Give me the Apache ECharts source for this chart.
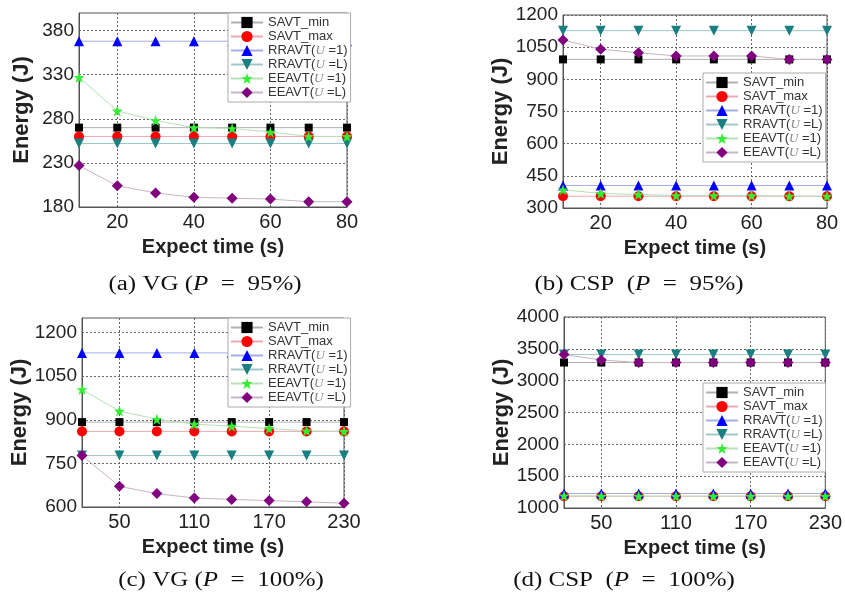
<!DOCTYPE html>
<html>
<head>
<meta charset="utf-8">
<script src="https://cdn.jsdelivr.net/npm/echarts@6/dist/echarts.min.js"></script>
<style>
  html, body { margin: 0; padding: 0; background: #fff; }
  #main { width: 845px; height: 596px; }
</style>
</head>
<body>
<div id="main"></div>
<script>
// series names (legend order)
const names = ['SAVT_min', 'SAVT_max', 'RRAVT(U =1)', 'RRAVT(U =L)', 'EEAVT(U =1)', 'EEAVT(U =L)']

// x values
const xsShort = [10, 20, 30, 40, 50, 60, 70, 80]
const xsLong = [20, 50, 80, 110, 140, 170, 200, 230]

// tick labels
const xTicksShort = [20, 40, 60, 80]
const xTicksLong = [50, 110, 170, 230]
const yTicksA = [180, 230, 280, 330, 380]
const yTicksB = [300, 450, 600, 750, 900, 1050, 1200]
const yTicksC = [600, 750, 900, 1050, 1200]
const yTicksD = [1000, 1500, 2000, 2500, 3000, 3500, 4000]

// (a) VG, P = 95%
const aSavtMin = [270, 270, 270, 270, 270, 270, 270, 270]
const aSavtMax = [260, 260, 260, 260, 260, 260, 260, 260]
const aRrU1 = [368, 368, 368, 368, 368, 368, 368, 368]
const aRrUL = [252, 252, 252, 252, 252, 252, 252, 252]
const aEeU1 = [327, 289, 278, 270, 269, 265, 260, 260]
const aEeUL = [227, 204, 196, 191, 190, 189, 186, 186]

// (b) CSP, P = 95%
const bSavtMin = [993, 993, 993, 993, 993, 993, 993, 993]
const bSavtMax = [355, 355, 355, 355, 355, 355, 355, 355]
const bRrU1 = [405, 405, 405, 405, 405, 405, 405, 405]
const bRrUL = [1127, 1127, 1127, 1127, 1127, 1127, 1127, 1127]
const bEeU1 = [385, 368, 363, 358, 358, 358, 355, 355]
const bEeUL = [1083, 1040, 1024, 1009, 1009, 1009, 993, 993]

// (c) VG, P = 100%
const cSavtMin = [892, 892, 892, 892, 892, 892, 892, 892]
const cSavtMax = [860, 860, 860, 860, 860, 860, 860, 860]
const cRrU1 = [1130, 1130, 1130, 1130, 1130, 1130, 1130, 1130]
const cRrUL = [777, 777, 777, 777, 777, 777, 777, 777]
const cEeU1 = [1004, 930, 902, 885, 878, 870, 862, 860]
const cEeUL = [777, 671, 646, 631, 626, 622, 618, 613]

// (d) CSP, P = 100%
const dSavtMin = [3285, 3285, 3285, 3285, 3285, 3285, 3285, 3285]
const dSavtMax = [1185, 1185, 1185, 1185, 1185, 1185, 1185, 1185]
const dRrU1 = [1228, 1228, 1228, 1228, 1228, 1228, 1228, 1228]
const dRrUL = [3410, 3410, 3410, 3410, 3410, 3410, 3410, 3410]
const dEeU1 = [1192, 1186, 1185, 1185, 1185, 1185, 1185, 1185]
const dEeUL = [3410, 3325, 3285, 3285, 3285, 3285, 3285, 3285]

const star = 'path://M0,-10L2.35,-3.24L9.51,-3.09L3.8,1.24L5.88,8.09L0,4L-5.88,8.09L-3.8,1.24L-9.51,-3.09L-2.35,-3.24Z'
const looks = [
  { symbol: 'rect', size: 8, rotate: 0, color: '#000000', line: '#b0b0b0' },
  { symbol: 'circle', size: 10, rotate: 0, color: '#ff0000', line: '#f0a8b0' },
  { symbol: 'triangle', size: 10, rotate: 0, color: '#0000ff', line: '#a4aeea' },
  { symbol: 'triangle', size: 10, rotate: 180, color: '#1a7f80', line: '#a0c8c8' },
  { symbol: star, size: 11, rotate: 0, color: '#33ee33', line: '#b8e0b8' },
  { symbol: 'diamond', size: 11, rotate: 0, color: '#800080', line: '#c6b6c6' }
]

const panels = [
  { grid: { left: 79, top: 13, width: 268, height: 194 }, xs: xsShort, xMin: 10, xMax: 80, xTicks: xTicksShort,
    yMin: 180, yMax: 400, yTicks: yTicksA, legend: { left: 228, top: 13 },
    data: [aSavtMin, aSavtMax, aRrU1, aRrUL, aEeU1, aEeUL],
    caption: ['(a) VG (', '  =  95%)'], cap: [205, 285] },
  { grid: { left: 563, top: 15, width: 264, height: 193 }, xs: xsShort, xMin: 10, xMax: 80, xTicks: xTicksShort,
    yMin: 300, yMax: 1200, yTicks: yTicksB, legend: { left: 703, top: 73 },
    data: [bSavtMin, bSavtMax, bRrU1, bRrUL, bEeU1, bEeUL],
    caption: ['(b) CSP  (', '  =  95%)'], cap: [639, 285] },
  { grid: { left: 82, top: 318, width: 262, height: 189 }, xs: xsLong, xMin: 20, xMax: 230, xTicks: xTicksLong,
    yMin: 600, yMax: 1250, yTicks: yTicksC, legend: { left: 228, top: 318 },
    data: [cSavtMin, cSavtMax, cRrU1, cRrUL, cEeU1, cEeUL],
    caption: ['(c) VG (', '  =  100%)'], cap: [221, 581] },
  { grid: { left: 564, top: 317, width: 263, height: 191 }, xs: xsLong, xMin: 20, xMax: 230, xTicks: xTicksLong,
    yMin: 1000, yMax: 4000, yTicks: yTicksD, legend: { left: 703, top: 383 },
    data: [dSavtMin, dSavtMax, dRrU1, dRrUL, dEeU1, dEeUL],
    caption: ['(d) CSP  (', '  =  100%)'], cap: [624, 581] }
]

const sans = 'Liberation Sans, Arial, sans-serif'
const serif = 'Liberation Serif, Times New Roman, serif'

function legendName(name) {
  let m = name.match(/^(.*\()U( =.*)$/)
  if (m) return '{t|' + m[1] + '}{u|U}{t|' + m[2] + '}'
  return '{t|' + name + '}'
}

let grids = [], xAxes = [], yAxes = [], legends = [], series = [], graphics = []
panels.forEach((p, i) => {
  grids.push(Object.assign({ show: true, borderColor: '#555', borderWidth: 1, backgroundColor: '#fff' }, p.grid))
  xAxes.push({
    gridIndex: i, type: 'value', min: p.xMin, max: p.xMax,
    name: 'Expect time (s)', nameLocation: 'middle', nameGap: 30,
    nameTextStyle: { fontFamily: sans, fontWeight: 'bold', fontSize: 20, color: '#222' },
    axisLine: { show: true, lineStyle: { color: '#555' } },
    axisTick: { show: false, customValues: p.xTicks },
    axisLabel: { customValues: p.xTicks, formatter: v => String(v), fontFamily: sans, fontSize: 20, color: '#222', margin: 5 },
    splitLine: { show: true, lineStyle: { color: '#666', type: [2, 2], width: 1 } }
  })
  yAxes.push({
    gridIndex: i, type: 'value', min: p.yMin, max: p.yMax,
    name: 'Energy (J)', nameLocation: 'middle', nameGap: 46,
    nameTextStyle: { fontFamily: sans, fontWeight: 'bold', fontSize: 22, color: '#222' },
    axisLine: { show: true, lineStyle: { color: '#555' } },
    axisTick: { show: false, customValues: p.yTicks },
    axisLabel: { customValues: p.yTicks, formatter: v => String(v), fontFamily: sans, fontSize: 19, color: '#222', margin: 5 },
    splitLine: { show: true, lineStyle: { color: '#666', type: [2, 2], width: 1 } }
  })
  legends.push({
    left: p.legend.left, top: p.legend.top, orient: 'vertical',
    backgroundColor: '#fff', borderColor: '#aaa', borderWidth: 1, borderRadius: 0,
    padding: [3, 3, 3, 2], itemWidth: 32, itemHeight: 14, itemGap: 1, selectedMode: false,
    data: names.map(n => n + '#' + i),
    formatter: name => legendName(name.split('#')[0]),
    textStyle: {
      rich: {
        t: { fontFamily: sans, fontSize: 13, color: '#333', lineHeight: 14 },
        u: { fontFamily: serif, fontStyle: 'italic', fontSize: 13, color: '#888', lineHeight: 14 }
      }
    }
  })
  p.data.forEach((vals, k) => {
    let lk = looks[k]
    series.push({
      name: names[k] + '#' + i, type: 'line', xAxisIndex: i, yAxisIndex: i,
      data: p.xs.map((x, j) => [x, vals[j]]),
      symbol: lk.symbol, symbolSize: lk.size, symbolRotate: lk.rotate,
      itemStyle: { color: lk.color },
      lineStyle: { color: lk.line, width: 1 },
      emphasis: { disabled: true }, animation: false
    })
  })
  graphics.push({
    type: 'text', x: p.cap[0], y: p.cap[1], scaleX: 1.25,
    style: {
      text: '{n|' + p.caption[0] + '}{i|P}{n|' + p.caption[1] + '}',
      align: 'center', verticalAlign: 'middle',
      rich: {
        n: { fontFamily: serif, fontSize: 20, fill: '#111' },
        i: { fontFamily: serif, fontSize: 20, fontStyle: 'italic', fill: '#111' }
      }
    }
  })
})

let myChart = echarts.init(document.getElementById('main'))
myChart.setOption({
  animation: false,
  grid: grids,
  xAxis: xAxes,
  yAxis: yAxes,
  legend: legends,
  series: series,
  graphic: graphics
})
</script>
</body>
</html>
